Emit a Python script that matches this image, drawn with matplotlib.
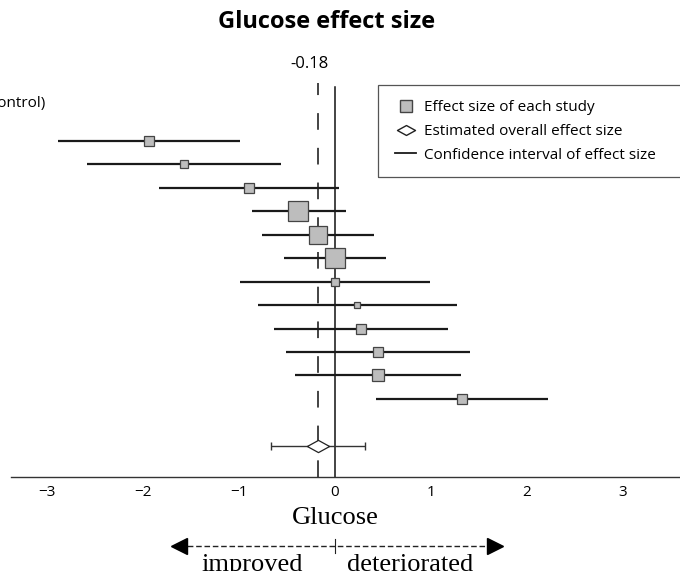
import numpy as np
import matplotlib
matplotlib.use('Agg')
import matplotlib.pyplot as plt
from matplotlib.path import Path
from matplotlib.patches import Rectangle
from matplotlib.transforms import blended_transform_factory

plt.rcParams['font.family'] = ['Open Sans', 'DejaVu Sans']
plt.rcParams['lines.scale_dashes'] = False

# per-study standardized mean differences and 95% CI
effect = [-1.94, -1.57, -0.90, -0.39, -0.18, 0.00, 0.00, 0.23, 0.27, 0.45, 0.45, 1.32]
ci_low = [-2.89, -2.58, -1.83, -0.86, -0.76, -0.53, -0.99, -0.80, -0.64, -0.51, -0.42, 0.43]
ci_high = [-0.99, -0.56, 0.04, 0.11, 0.41, 0.53, 0.99, 1.27, 1.18, 1.41, 1.31, 2.22]
weight = [4.4, 3.5, 4.4, 21.6, 17.5, 21.6, 3.5, 1.9, 5.4, 4.4, 6.5, 5.4]   # %

# pooled estimate
pooled = -0.18
pooled_low, pooled_high = -0.67, 0.31

W, H = 680, 571
fig = plt.figure(figsize=(W / 100, H / 100), dpi=100)

# axes placed in pixel terms; right side runs past the canvas edge
ax_l, ax_b, ax_t = 11, 477, 83
x0, x1 = -3.375, 3.80
ax = fig.add_axes([ax_l / W, (H - ax_b) / H, (x1 - x0) * 96 / W, (ax_b - ax_t) / H])
ax.set_xlim(x0, x1)
ax.set_ylim(15.33, -1.473)

rows = np.arange(1, len(effect) + 1)
pooled_row = len(effect) + 2

ax.axvline(0, ymax=0.99, color='#111111', lw=1.1, zorder=1)
ax.axvline(pooled, color='#111111', lw=1.1, dashes=(12, 13), zorder=1)

ax.hlines(rows, ci_low, ci_high, color='#1a1a1a', lw=1.6, zorder=2)
for r, e, w in zip(rows, effect, weight):
    ax.plot(e, r, marker='s', ms=3.2 * np.sqrt(w), mfc='#bdbdbd', mec='#444444',
            mew=0.9, ls='none', zorder=3)

ax.errorbar(pooled, pooled_row, xerr=[[pooled - pooled_low], [pooled_high - pooled]],
            fmt='none', ecolor='#333333', elinewidth=1.0, capsize=3, capthick=1.0, zorder=2)
diamond = Path([(-1, 0), (0, 0.55), (1, 0), (0, -0.55), (-1, 0)],
               [Path.MOVETO, Path.LINETO, Path.LINETO, Path.LINETO, Path.CLOSEPOLY])
ax.plot(pooled, pooled_row, marker=diamond, ms=16, mfc='white', mec='#222222',
        mew=0.9, ls='none', zorder=3)

ax.annotate('-0.18', xy=(pooled, -2.3), xytext=(-6, 0), textcoords='offset points',
            ha='center', va='center', fontsize=12, annotation_clip=False)
ax.text(-3.02, -0.62, 'Study (intervention vs. control)', ha='right', va='center',
        fontsize=11, clip_on=False)

for s in ('left', 'top', 'right'):
    ax.spines[s].set_visible(False)
ax.spines['bottom'].set_color('#333333')
ax.spines['bottom'].set_linewidth(1.0)
ax.set_yticks([])
ax.set_xticks([-3, -2, -1, 0, 1, 2, 3])
ax.tick_params(axis='x', length=0, labelsize=11, pad=6)

fig.text(327 / W, 1 - 22 / H, 'Glucose effect size', ha='center', va='center',
         fontsize=17, fontweight='bold')

serif = ['Liberation Serif', 'DejaVu Serif']
fig.text(335 / W, 1 - 518 / H, 'Glucose', ha='center', va='center', fontsize=19,
         family=serif)

# improved / deteriorated direction arrow
tr = blended_transform_factory(ax.transData, fig.transFigure)
ya = 1 - 546 / H
ax.plot([-1.62, 1.67], [ya, ya], transform=tr, color='#222222', lw=1.0,
        dashes=(4, 2), clip_on=False)
ax.plot([-1.62], [ya], transform=tr, marker='<', ms=11, color='black', clip_on=False)
ax.plot([1.67], [ya], transform=tr, marker='>', ms=11, color='black', clip_on=False)
ax.plot([0, 0], [1 - 539 / H, 1 - 553 / H], transform=tr, color='#222222', lw=0.8,
        clip_on=False)
fig.text(252 / W, 1 - 565 / H, 'improved', ha='center', va='center', fontsize=19,
         family=serif)
fig.text(410 / W, 1 - 565 / H, 'deteriorated', ha='center', va='center', fontsize=19,
         family=serif)

# legend box runs past the right edge, so the frame is drawn separately
fig.patches.append(Rectangle((378 / W, 1 - 177 / H), 340 / W, 92 / H,
                             transform=fig.transFigure, fill=False,
                             edgecolor='#555555', lw=0.9))
h1 = plt.Line2D([], [], marker='s', ms=8, mfc='#bdbdbd', mec='#444444', ls='none')
h2 = plt.Line2D([], [], marker=diamond, ms=13, mfc='white', mec='#222222', ls='none')
h3 = plt.Line2D([], [], color='#1a1a1a', lw=1.3)
fig.legend([h1, h2, h3],
           ['Effect size of each study', 'Estimated overall effect size',
            'Confidence interval of effect size'],
           loc='upper left', bbox_to_anchor=(395 / W, 1 - 100 / H), fontsize=11,
           frameon=False, borderpad=0, labelspacing=0.58, handlelength=1.4,
           handletextpad=0.5, borderaxespad=0)

fig.savefig('out.png', dpi=100)
